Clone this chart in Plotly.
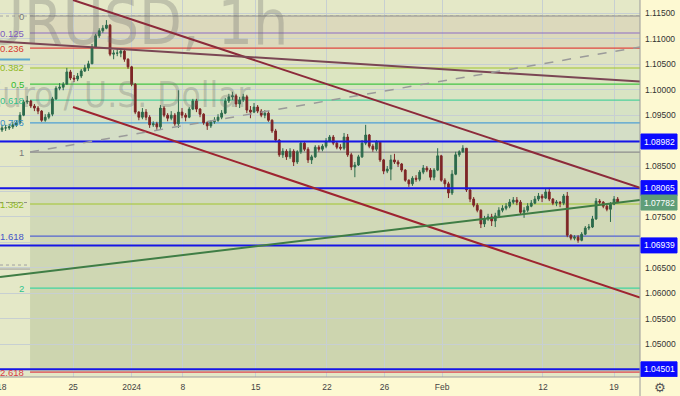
import plotly.graph_objects as go

# ---------------- data ----------------
tick_labels = ['18', '25', '2024', '8', '15', '22', '26', 'Feb', '12', '19']
tick_pos = [0, 19.75, 36.0, 50.25, 70.5, 90.25, 106.25, 122.25, 150.25, 170.0]
x_range = [-0.56, 177.2]

first_open = 1.0921
closes = [
    1.0925, 1.0925, 1.0927, 1.0931, 1.0935, 1.0950, 1.0976, 1.0978, 1.0968, 1.0964,
    1.0958, 1.0940, 1.0946, 1.0952, 1.0982, 1.1003, 1.1005, 1.1011, 1.1035, 1.1023,
    1.1021, 1.1027, 1.1037, 1.1043, 1.1051, 1.1084, 1.1106, 1.1116, 1.1121, 1.1127,
    1.1070, 1.1072, 1.1072, 1.1076, 1.1060, 1.1045, 1.1011, 1.0956, 1.0946, 1.0956,
    1.0946, 1.0931, 1.0933, 1.0927, 1.0964, 1.0950, 1.0944, 1.0950, 1.0933, 1.0956,
    1.0950, 1.0946, 1.0962, 1.0978, 1.0962, 1.0952, 1.0935, 1.0929, 1.0937, 1.0940,
    1.0946, 1.0954, 1.0978, 1.0986, 1.0988, 1.0972, 1.0980, 1.0986, 1.0960, 1.0956,
    1.0966, 1.0958, 1.0950, 1.0954, 1.0940, 1.0919, 1.0901, 1.0872, 1.0879, 1.0868,
    1.0879, 1.0858, 1.0878, 1.0895, 1.0883, 1.0862, 1.0868, 1.0887, 1.0883, 1.0889,
    1.0899, 1.0907, 1.0895, 1.0887, 1.0885, 1.0907, 1.0872, 1.0848, 1.0852, 1.0868,
    1.0895, 1.0911, 1.0889, 1.0883, 1.0897, 1.0862, 1.0840, 1.0844, 1.0862, 1.0858,
    1.0854, 1.0842, 1.0822, 1.0815, 1.0826, 1.0824, 1.0838, 1.0846, 1.0842, 1.0828,
    1.0842, 1.0870, 1.0822, 1.0815, 1.0797, 1.0834, 1.0872, 1.0878, 1.0885, 1.0803,
    1.0785, 1.0773, 1.0763, 1.0736, 1.0746, 1.0750, 1.0742, 1.0752, 1.0763, 1.0767,
    1.0771, 1.0779, 1.0783, 1.0779, 1.0759, 1.0763, 1.0771, 1.0777, 1.0785, 1.0791,
    1.0787, 1.0799, 1.0785, 1.0777, 1.0779, 1.0777, 1.0791, 1.0714, 1.0708, 1.0710,
    1.0704, 1.0716, 1.0728, 1.0730, 1.0746, 1.0781, 1.0779, 1.0771, 1.0765, 1.0775,
    1.0785, 1.07782,
]
highs = [
    1.0931, 1.0931, 1.0933, 1.0937, 1.0940, 1.0956, 1.0980, 1.0988, 1.0980, 1.0972,
    1.0968, 1.0960, 1.0952, 1.0956, 1.0986, 1.1007, 1.1013, 1.1015, 1.1043, 1.1039,
    1.1029, 1.1033, 1.1041, 1.1049, 1.1057, 1.1090, 1.1110, 1.1121, 1.1127, 1.1137,
    1.1129, 1.1078, 1.1080, 1.1082, 1.1080, 1.1062, 1.1047, 1.1013, 1.0958, 1.0964,
    1.0962, 1.0950, 1.0938, 1.0937, 1.0970, 1.0968, 1.0954, 1.0958, 1.0954, 1.0999,
    1.0964, 1.0954, 1.0966, 1.0982, 1.0982, 1.0964, 1.0954, 1.0938, 1.0940, 1.0946,
    1.0952, 1.0960, 1.0984, 1.0992, 1.0996, 1.0992, 1.0986, 1.0992, 1.0990, 1.0968,
    1.0974, 1.0970, 1.0962, 1.0960, 1.0958, 1.0942, 1.0923, 1.0903, 1.0885, 1.0883,
    1.0885, 1.0883, 1.0881, 1.0899, 1.0899, 1.0887, 1.0872, 1.0891, 1.0891, 1.0893,
    1.0905, 1.0911, 1.0911, 1.0899, 1.0893, 1.0915, 1.0913, 1.0876, 1.0858, 1.0872,
    1.0901, 1.0931, 1.0913, 1.0893, 1.0901, 1.0897, 1.0864, 1.0850, 1.0872, 1.0874,
    1.0862, 1.0856, 1.0844, 1.0824, 1.0830, 1.0832, 1.0842, 1.0852, 1.0850, 1.0846,
    1.0846, 1.0885, 1.0872, 1.0826, 1.0819, 1.0842, 1.0878, 1.0881, 1.0891, 1.0885,
    1.0805, 1.0789, 1.0777, 1.0765, 1.0752, 1.0756, 1.0756, 1.0758, 1.0769, 1.0773,
    1.0777, 1.0785, 1.0789, 1.0789, 1.0783, 1.0769, 1.0777, 1.0783, 1.0791, 1.0797,
    1.0795, 1.0805, 1.0807, 1.0787, 1.0783, 1.0781, 1.0795, 1.0799, 1.0716, 1.0714,
    1.0714, 1.0720, 1.0732, 1.0736, 1.0752, 1.0787, 1.0785, 1.0781, 1.0775, 1.0779,
    1.0791, 1.0789,
]
lows = [
    1.0917, 1.0919, 1.0921, 1.0923, 1.0927, 1.0933, 1.0948, 1.0972, 1.0964, 1.0958,
    1.0952, 1.0937, 1.0937, 1.0942, 1.0948, 1.0980, 1.0999, 1.0999, 1.1011, 1.1019,
    1.1015, 1.1017, 1.1023, 1.1035, 1.1037, 1.1051, 1.1082, 1.1102, 1.1112, 1.1119,
    1.1066, 1.1060, 1.1066, 1.1064, 1.1055, 1.1041, 1.1007, 1.0952, 1.0940, 1.0942,
    1.0940, 1.0925, 1.0927, 1.0921, 1.0923, 1.0946, 1.0938, 1.0940, 1.0929, 1.0925,
    1.0944, 1.0938, 1.0944, 1.0960, 1.0956, 1.0946, 1.0931, 1.0921, 1.0925, 1.0933,
    1.0937, 1.0942, 1.0952, 1.0974, 1.0980, 1.0966, 1.0964, 1.0976, 1.0954, 1.0944,
    1.0954, 1.0954, 1.0946, 1.0944, 1.0937, 1.0915, 1.0897, 1.0868, 1.0866, 1.0862,
    1.0864, 1.0850, 1.0854, 1.0874, 1.0879, 1.0856, 1.0854, 1.0866, 1.0878, 1.0879,
    1.0885, 1.0897, 1.0891, 1.0883, 1.0881, 1.0881, 1.0868, 1.0842, 1.0828, 1.0850,
    1.0866, 1.0891, 1.0885, 1.0878, 1.0879, 1.0858, 1.0834, 1.0836, 1.0822, 1.0854,
    1.0848, 1.0838, 1.0819, 1.0809, 1.0811, 1.0819, 1.0820, 1.0834, 1.0838, 1.0822,
    1.0822, 1.0840, 1.0819, 1.0807, 1.0787, 1.0793, 1.0832, 1.0868, 1.0876, 1.0799,
    1.0779, 1.0769, 1.0759, 1.0728, 1.0730, 1.0742, 1.0732, 1.0730, 1.0748, 1.0759,
    1.0763, 1.0767, 1.0775, 1.0773, 1.0754, 1.0748, 1.0759, 1.0769, 1.0775, 1.0781,
    1.0779, 1.0785, 1.0781, 1.0773, 1.0771, 1.0769, 1.0773, 1.0710, 1.0704, 1.0704,
    1.0699, 1.0702, 1.0714, 1.0724, 1.0728, 1.0744, 1.0775, 1.0767, 1.0761, 1.0740,
    1.0773, 1.0777,
]

# Fibonacci retracement
fib_start_x = 7.78
fib_price_0 = 1.1145
fib_price_1 = 1.08775
fib_ratios = [0, 0.125, 0.236, 0.382, 0.5, 0.618, 0.786, 1, 1.382, 1.618, 2, 2.618]
fib_labels = ['0', '0.125', '0.236', '0.382', '0.5', '0.618', '0.786', '1', '1.382', '1.618', '2', '2.618']
fib_colors = ['#8c8c8c', '#8e6cc4', '#e0473f', '#a2c62e', '#45c545', '#4fd09c', '#4e9fd4',
              '#8c8c8c', '#a2c62e', '#5565d0', '#40d4a0', '#e04a55']
fib_label_colors = ['#7a7a7a', '#7d5cc0', '#d83a32', '#8fb81e', '#32b932', '#35c08a', '#3a8fcc',
                    '#7a7a7a', '#8fb81e', '#4555c8', '#2cc48e', '#d83a48']
fib_fills = ['#dcd9bc', '#dcd9bc', '#dfe3c3', '#dce5c1', '#d9e4c3', '#d6e2c4', '#d4dec6',
             '#d1d9bb', '#d1d9b7', '#cfd7b3', '#cdd5af']

# key horizontal levels (blue, labelled on the price scale)
key_levels = [1.08982, 1.08065, 1.06939, 1.04501]
last_price = 1.07782
extra_h = [(1.10595, '#5aa8d0', 2, 'solid'), (1.06553, '#a0a0a0', 1, 'dot'),
           (1.06474, '#9a9a9a', 1, 'solid'), (1.11450, '#a8a8a8', 1, 'dot')]

# trend lines (bar index, price)
trend_lines = [
    (19.72, 1.11765, 177.2, 1.08070, '#8c2a3a', 2, 'solid'),
    (-0.56, 1.10949, 177.2, 1.10162, '#7a4654', 2, 'solid'),
    (19.72, 1.09660, 177.2, 1.05913, '#9e2430', 2, 'solid'),
    (-0.56, 1.06316, 177.2, 1.07831, '#3f7d45', 2, 'solid'),
    (7.78, 1.08775, 177.2, 1.10841, '#9a9a9a', 1.5, 'dash'),
]

y_range = [1.04351, 1.11765]
y_ticks = [round(1.045 + 0.005 * k, 3) for k in range(15)]
hidden_ticks = [1.045, 1.07, 1.08, 1.09]

# ---------------- figure ----------------
opens = [first_open] + closes[:-1]
highs = [max(h, o, c) for h, o, c in zip(highs, opens, closes)]
lows = [min(l, o, c) for l, o, c in zip(lows, opens, closes)]
xs = list(range(len(closes)))

fig = go.Figure()

# watermark (behind candles)
wm_font = 'Liberation Sans Narrow, DejaVu Sans Condensed, Arial Narrow, sans-serif'
fig.add_trace(go.Scatter(x=[-15.0], y=[1.1121], mode='text', text=['EURUSD, 1h'],
                         textposition='middle right', cliponaxis=True, hoverinfo='skip',
                         textfont=dict(size=62, color='rgba(105,105,105,0.30)', family=wm_font),
                         showlegend=False))
fig.add_trace(go.Scatter(x=[-5.5], y=[1.0983], mode='text', text=['Euro / U.S. Dollar'],
                         textposition='middle right', cliponaxis=True, hoverinfo='skip',
                         textfont=dict(size=35, color='rgba(105,105,105,0.30)', family=wm_font),
                         showlegend=False))

fig.add_trace(go.Candlestick(
    x=xs, open=opens, high=highs, low=lows, close=closes,
    increasing=dict(line=dict(color='#2d6b4c', width=1), fillcolor='#2d6b4c'),
    decreasing=dict(line=dict(color='#7e2626', width=1), fillcolor='#7e2626'),
    whiskerwidth=0, showlegend=False, hoverinfo='skip'))

shapes = []
annotations = []

fib_prices = [fib_price_0 - r * (fib_price_0 - fib_price_1) for r in fib_ratios]

# background fills between fib levels
for k in range(len(fib_prices) - 1):
    shapes.append(dict(type='rect', xref='x', yref='y', x0=fib_start_x, x1=x_range[1] + 5,
                       y0=fib_prices[k + 1], y1=fib_prices[k], fillcolor=fib_fills[k],
                       line=dict(width=0), layer='below'))

# fib lines + labels
for p, lab, col, lcol in zip(fib_prices, fib_labels, fib_colors, fib_label_colors):
    shapes.append(dict(type='line', xref='x', yref='y', x0=fib_start_x, x1=x_range[1] + 5,
                       y0=p, y1=p, line=dict(color=col, width=1.2), layer='between'))
    annotations.append(dict(xref='paper', yref='y', x=25.5 / 640, y=p, text=lab, showarrow=False,
                            xanchor='right', yanchor='middle',
                            font=dict(size=9.5, color=lcol, family='Liberation Sans, Arial')))

for p, col, w, dash in extra_h:
    shapes.append(dict(type='line', xref='paper', yref='y', x0=0, x1=1, y0=p, y1=p,
                       line=dict(color=col, width=w, dash=dash), layer='between'))

# last price dotted line
shapes.append(dict(type='line', xref='paper', yref='y', x0=0, x1=1, y0=last_price, y1=last_price,
                   line=dict(color='#8f8f8f', width=1, dash='dot'), layer='between'))

for p in key_levels:
    shapes.append(dict(type='line', xref='paper', yref='y', x0=0, x1=1, y0=p, y1=p,
                       line=dict(color='#1616e6', width=2), layer='above'))

for x0, y0, x1, y1, col, w, dash in trend_lines:
    shapes.append(dict(type='line', xref='x', yref='y', x0=x0, y0=y0, x1=x1, y1=y1,
                       line=dict(color=col, width=w, dash=dash), layer='above'))

# frame lines
shapes.append(dict(type='line', xref='paper', yref='paper', x0=1, x1=1, y0=-19 / 377, y1=1,
                   line=dict(color='#9a9a9a', width=1)))
shapes.append(dict(type='line', xref='paper', yref='paper', x0=0, x1=1, y0=0, y1=0,
                   line=dict(color='#9a9a9a', width=1)))

# price-scale labels
half_h = 7.5 / 5085
box_x0 = 1 + 1 / 640
box_x1 = 1 + 37 / 640
for p in key_levels:
    shapes.append(dict(type='rect', xref='paper', yref='y', x0=box_x0, x1=box_x1,
                       y0=p - half_h, y1=p + half_h, fillcolor='#0a0aff',
                       line=dict(color='#0a0aff', width=1)))
    annotations.append(dict(xref='paper', yref='y', x=(box_x0 + box_x1) / 2, y=p,
                            text=f'{p:.5f}', showarrow=False, xanchor='center', yanchor='middle',
                            font=dict(size=8.5, color='white', family='Liberation Sans, Arial')))
shapes.append(dict(type='rect', xref='paper', yref='y', x0=box_x0, x1=box_x1,
                   y0=last_price - half_h, y1=last_price + half_h, fillcolor='#5f9e78',
                   line=dict(color='#5f9e78', width=1)))
annotations.append(dict(xref='paper', yref='y', x=(box_x0 + box_x1) / 2, y=last_price,
                        text=f'{last_price:.5f}', showarrow=False, xanchor='center', yanchor='middle',
                        font=dict(size=8.5, color='white', family='Liberation Sans, Arial')))

# first date label sits on the left edge (partly cut off, as on the reference)
annotations.append(dict(xref='x', yref='paper', x=tick_pos[0], y=-10 / 377, text=tick_labels[0],
                        showarrow=False, xanchor='center', yanchor='middle',
                        font=dict(size=8.5, color='#444444', family='Liberation Sans, Arial')))

# settings gear
annotations.append(dict(xref='paper', yref='paper', x=1 + 20 / 640, y=-10 / 377, text='\u2699',
                        showarrow=False, xanchor='center', yanchor='middle',
                        font=dict(size=13, color='#555555', family='DejaVu Sans')))

y_text = ['' if any(abs(v - h) < 1e-9 for h in hidden_ticks) else f'{v:.5f}' for v in y_ticks]

fig.update_layout(
    width=680, height=396,
    margin=dict(l=0, r=40, t=0, b=19),
    paper_bgcolor='#fdf9d2',
    plot_bgcolor='#e4e8c7',
    showlegend=False,
    shapes=shapes,
    annotations=annotations,
    xaxis=dict(range=x_range, tickvals=tick_pos[1:], ticktext=tick_labels[1:], showgrid=True,
               gridcolor='#c7cfd2', gridwidth=1, zeroline=False, showline=False, ticks='',
               ticklabelstandoff=3, rangeslider=dict(visible=False),
               tickfont=dict(size=8.5, color='#444444', family='Liberation Sans, Arial')),
    yaxis=dict(range=y_range, side='right', tickvals=y_ticks, ticktext=y_text, showgrid=True,
               gridcolor='#c7cfd2', gridwidth=1, zeroline=False, showline=False, ticks='',
               ticklabelstandoff=4,
               tickfont=dict(size=8.5, color='#333333', family='Liberation Sans, Arial')),
)

fig.write_html('out.html')
